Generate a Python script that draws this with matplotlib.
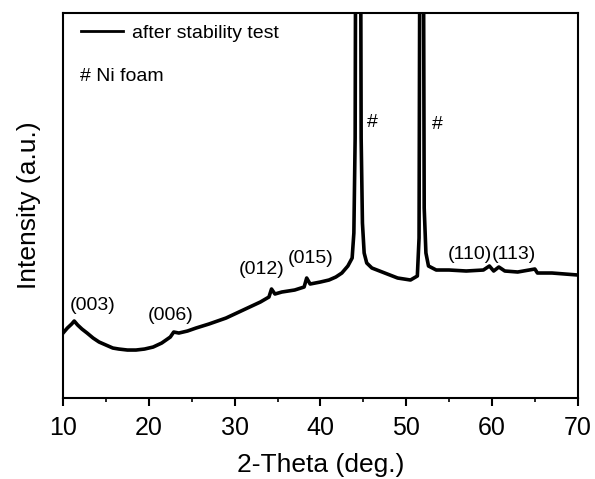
import matplotlib.pyplot as plt
from matplotlib.ticker import MultipleLocator
from matplotlib.lines import Line2D

plt.rcParams["font.family"] = ["Liberation Sans", "DejaVu Sans"]

# XRD pattern (2-theta, intensity in a.u.)
two_theta = [10.0, 10.5, 11.0, 11.3, 11.7, 12.2, 12.8, 13.5, 14.2, 15.0, 15.8, 16.5,
             17.5, 18.5, 19.5, 20.5, 21.5, 22.5, 22.9, 23.5, 24.5, 25.5, 27.0, 28.0,
             29.0, 30.0, 31.0, 32.0, 33.0, 34.0, 34.3, 34.7, 35.5, 37.0, 38.1, 38.4,
             38.8, 40.0, 41.0, 41.8, 42.5, 43.2, 43.7, 43.9, 44.05, 44.15, 44.4, 44.65,
             44.75, 44.9, 45.1, 45.4, 46.0, 47.5, 49.0, 50.5, 51.3, 51.5, 51.6, 51.8,
             52.0, 52.1, 52.3, 52.6, 53.5, 55.0, 57.0, 59.0, 59.7, 60.2, 60.8, 61.5,
             63.0, 65.0, 65.3, 67.0, 70.0]
intensity = [65, 70, 74, 77, 73, 69, 65, 60, 56, 53, 50, 49,
             48, 48, 49, 51, 55, 61, 66, 65, 67, 70, 74, 77,
             80, 84, 88, 92, 96, 101, 109, 104, 106, 108, 111, 120,
             114, 116, 118, 121, 125, 132, 140, 165, 260, 600, 2000, 600,
             260, 175, 145, 135, 130, 125, 120, 118, 122, 160, 500, 2000,
             500, 190, 145, 132, 128, 128, 127, 128, 132, 127, 131, 127,
             126, 129, 125, 125, 123]

hkl_labels = ["(003)", "(006)", "(012)", "(015)", "(110)", "(113)"]
hkl_x = [13.4, 22.5, 33.2, 38.9, 57.4, 62.6]
hkl_y = [84, 74, 120, 131, 135, 135]

ni_x = [46.0, 53.6]
ni_y = [275, 273]

fig = plt.figure(figsize=(5.95, 4.79), dpi=100)
ax = fig.add_axes([0.106, 0.169, 0.865, 0.804])

ax.plot(two_theta, intensity, color="black", lw=2.6, solid_joinstyle="round")

for lab, x, y in zip(hkl_labels, hkl_x, hkl_y):
    ax.text(x, y, lab, ha="center", va="bottom", fontsize=14)
for x, y in zip(ni_x, ni_y):
    ax.text(x, y, "#", ha="center", va="center", fontsize=14)

ax.set_xlim(10, 70)
ax.set_ylim(0, 385)
ax.xaxis.set_major_locator(MultipleLocator(10))
ax.xaxis.set_minor_locator(MultipleLocator(5))
ax.set_yticks([])
ax.tick_params(axis="x", which="major", direction="out", length=6, width=1.5,
               labelsize=18, pad=7)
ax.tick_params(axis="x", which="minor", direction="out", length=3, width=1.2)
for s in ax.spines.values():
    s.set_linewidth(1.5)

ax.set_xlabel("2-Theta (deg.)", fontsize=19, labelpad=9)
ax.set_ylabel("Intensity (a.u.)", fontsize=19, labelpad=16)

handle = Line2D([], [], color="black", lw=2)
ax.legend([handle], ["after stability test"], loc="upper left", frameon=False,
          fontsize=14, handlelength=2.2, handletextpad=0.45,
          bbox_to_anchor=(0.0, 1.015))
ax.text(0.033, 0.835, "# Ni foam", transform=ax.transAxes, fontsize=14, va="center")

fig.savefig("out.png", dpi=100)
